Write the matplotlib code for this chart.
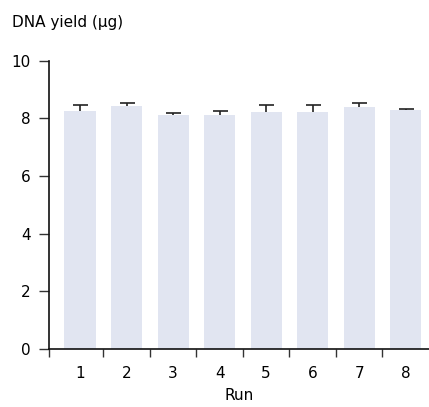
import matplotlib
matplotlib.use("Agg")
import matplotlib.pyplot as plt
import numpy as np

runs = [1, 2, 3, 4, 5, 6, 7, 8]
yield_ug = [8.25, 8.43, 8.11, 8.11, 8.22, 8.22, 8.39, 8.29]
err_up = [0.22, 0.11, 0.08, 0.15, 0.25, 0.25, 0.15, 0.05]
y_ticks = [0, 2, 4, 6, 8, 10]

plt.rcParams["font.family"] = ["DejaVu Sans"]
plt.rcParams["font.size"] = 11

fig = plt.figure(figsize=(4.29, 4.07), dpi=100)
ax = fig.add_axes([0.114, 0.1425, 0.886, 0.7085])

x = np.array(runs, float)
# bars drawn over the error bars so only the upper half shows
ax.errorbar(x, yield_ug, yerr=err_up, fmt="none",
            ecolor="#222222", elinewidth=1.2, capsize=5.4, capthick=1.2, zorder=1)
ax.bar(x, yield_ug, width=0.67, color="#e1e5f1", zorder=2)

ax.set_xlim(0.33, 8.5)
ax.set_ylim(0, 10)
ax.set_yticks(y_ticks)
ax.set_xticks(runs)
ax.set_xticklabels([str(r) for r in runs])
ax.tick_params(axis="x", which="major", length=0, pad=12)
ax.set_xticks([0.33] + [r + 0.5 for r in runs[:-1]], minor=True)
ax.tick_params(axis="x", which="minor", length=6, width=1, color="#333333")
ax.tick_params(axis="y", length=7, width=1, color="#333333", pad=6)

for s in ["top", "right"]:
    ax.spines[s].set_visible(False)
for s in ["left", "bottom"]:
    ax.spines[s].set_linewidth(1.2)
    ax.spines[s].set_color("#111111")

ax.set_xlabel("Run", labelpad=5)
fig.text(0.028, 0.945, "DNA yield (\u00b5g)", ha="left", va="center", fontsize=11)

fig.savefig("out.png", dpi=100)
